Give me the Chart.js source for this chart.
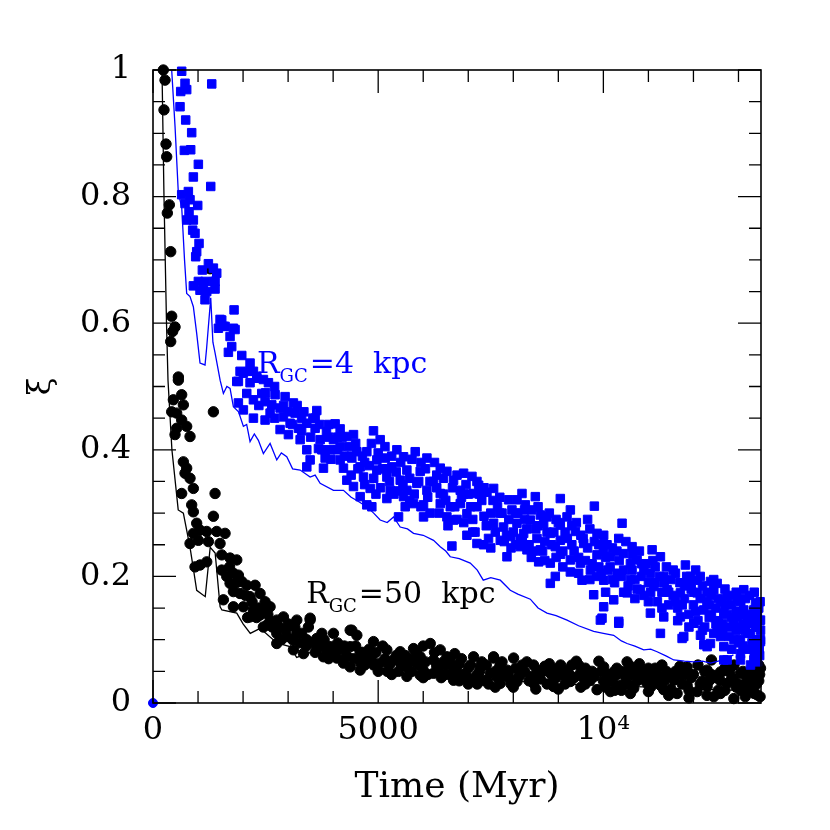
<!DOCTYPE html>
<html>
<head>
<meta charset="utf-8">
<script src="https://cdn.jsdelivr.net/npm/chart.js@4.4.1/dist/chart.umd.min.js"></script>
<style>
  html, body { margin: 0; padding: 0; background: #fff; }
</style>
</head>
<body>
<canvas id="xiChart" width="830" height="830"></canvas>
<script>
// axis ticks
const xTickValues = [0, 5000, 10000];
const xTickLabels = ['0', '5000', '10\u2074'];
const yTickValues = [0, 0.2, 0.4, 0.6, 0.8, 1];
const yTickLabels = ['0', '0.2', '0.4', '0.6', '0.8', '1'];

// R_GC = 50 kpc clusters, [time (Myr), xi]
const xi50 = [
  [229,1.0],[267,0.984],[244,0.937],[289,0.883],[304,0.863],[363,0.787],[318,0.774],[393,0.713],
  [415,0.611],[489,0.594],[437,0.587],[393,0.571],[563,0.515],[1267,0.686],
  [563,0.51],[637,0.487],[452,0.479],[674,0.471],[526,0.458],[415,0.46],[637,0.447],[748,0.437],
  [526,0.434],[822,0.421],[489,0.424],[1341,0.46],[674,0.381],[748,0.371],[711,0.363],[822,0.355],
  [896,0.339],[637,0.331],[1378,0.331],[859,0.313],[896,0.302],[1341,0.295],[970,0.284],[896,0.268],
  [1044,0.273],[1193,0.271],[1415,0.271],[1600,0.268],[1007,0.257],[1230,0.255],[822,0.252],[1489,0.252],
  [933,0.215],[1044,0.218],[1193,0.223],[1526,0.234],[1711,0.229],[1860,0.226],[1526,0.21],[1637,0.2],
  [1785,0.205],[1896,0.202],[1711,0.189],[1971,0.192],[2082,0.186],[2267,0.186],[1785,0.176],[1933,0.173],
  [2155,0.168],[2378,0.173],[2489,0.16],[1563,0.163],[1785,0.152],[2007,0.152],[2230,0.147],[2155,0.136],
  [2378,0.139],[2600,0.152],[2748,0.131],[2526,0.123],[2896,0.136],[3044,0.123],[3193,0.131],[3489,0.134],
  [2748,0.11],[2970,0.105],[2748,0.094],[3193,0.11],[3415,0.1],[3637,0.102],[3118,0.084],[3341,0.078],
  [3637,0.084],[3933,0.089],[4007,0.11],[4378,0.115],[3785,0.073],[4081,0.071],[4378,0.089],[4526,0.107],
  [4378,0.057],[4600,0.065],[4229,0.063],
  [3489,0.131],[4415,0.115],[4896,0.097],[5193,0.084],[5489,0.081],[5785,0.086],[6156,0.094],[6378,0.084],
  [4748,0.073],[5044,0.063],[5341,0.068],[5637,0.057],[5933,0.073],[6229,0.068],[6526,0.073],[6674,0.057],
  [7118,0.073],[7563,0.071],[5637,0.042],[5933,0.044],[6229,0.047],[6674,0.036],[6970,0.042],[7415,0.036],
  [4229,0.068],[4600,0.052],
  [7563,0.073],[8007,0.071],[10526,0.065],[7267,0.057],[7489,0.047],[7859,0.052],[8155,0.044],[8526,0.052],
  [8822,0.047],[9193,0.052],[9489,0.047],[10007,0.057],[10229,0.049],[10748,0.049],[11193,0.047],[11859,0.057],
  [12304,0.052],[12600,0.049],[13044,0.047],[13489,0.055],[7341,0.036],[7711,0.031],[8082,0.034],[8452,0.031],
  [8896,0.026],[9267,0.034],[9711,0.036],[9859,0.021],[10156,0.018],[10378,0.028],[10674,0.023],[10970,0.031],
  [11267,0.028],[11563,0.036],[11859,0.028],[12304,0.026],[12452,0.01],[12748,0.031],[12896,0.007],[13193,0.036],
  [13415,0.013],[13341,0.026],[11637,0.015],[12082,0.018],[11341,0.021],
  [4900,0.06],[5200,0.05],[5500,0.062],[5800,0.066],[6000,0.052],[6300,0.058],[6500,0.045],[6800,0.062],
  [7000,0.055],[7200,0.045],[7700,0.058],[7900,0.04],[8200,0.06],[8400,0.042],[8700,0.058],[8900,0.038],
  [9100,0.044],[9300,0.06],[9600,0.055],[9800,0.042],[10000,0.035],[10300,0.055],[10500,0.04],[10600,0.058],
  [10850,0.038],[11000,0.055],[11100,0.035],[11400,0.05],[11500,0.022],[11700,0.045],[11950,0.04],[12100,0.06],
  [12200,0.035],[12400,0.045],[12550,0.02],[12700,0.055],[12850,0.04],[12950,0.025],[13100,0.05],[13250,0.02],
  [13300,0.045],[13450,0.035],[13480,0.01],[5100,0.09],[5600,0.075],[6000,0.09],[6700,0.078],[7300,0.065],
  [8300,0.065],[8800,0.062],[9400,0.066],[9900,0.066],[10800,0.062],[11300,0.06],[11700,0.058],[12400,0.068],
  [12900,0.06],[13450,0.06],[4600,0.08],[4800,0.085],[4100,0.095],[3800,0.1],[3300,0.11],[3000,0.125],
  [2600,0.13],[2350,0.15],[2050,0.17],[2450,0.12],[1850,0.19],[1700,0.215],[2100,0.135],[5300,0.045],
  [5900,0.06],[6500,0.06],[7000,0.03],[7800,0.045],[8600,0.038],[9000,0.055],[9600,0.03],[10100,0.045],
  [10400,0.02],[11000,0.045],[11800,0.045],[12600,0.035],[13000,0.03],[13350,0.04],
  [2200,0.16],[2300,0.135],[2450,0.145],[2550,0.14],[2650,0.12],[2800,0.12],[2850,0.1],[2950,0.115],
  [3100,0.1],[3150,0.12],[3250,0.095],[3400,0.09],[3450,0.12],[3550,0.095],[3600,0.08],[3700,0.09],
  [3750,0.11],[3850,0.085],[3900,0.07],[4000,0.08],[4150,0.085],[4250,0.09],[4300,0.075],[4450,0.07],
  [4500,0.09],[4650,0.08],[4700,0.06],[4850,0.07],[4950,0.08],[5000,0.05],[5150,0.07],[5250,0.06],
  [5400,0.075],[5450,0.05],[5550,0.065],[5700,0.07],[5750,0.05],[5850,0.08],[6050,0.065],[6100,0.045],
  [6250,0.08],[6350,0.05],[6450,0.065],[6600,0.045],[6600,0.07],[6750,0.05],[6850,0.07],[6900,0.045],
  [7050,0.06],[7150,0.04],[7250,0.05],[7400,0.06],[7450,0.03],[7600,0.05],[7650,0.04],[7750,0.065],
  [7900,0.05],[7950,0.03],[8050,0.055],[8100,0.04],[8250,0.05],[8350,0.035],[8450,0.06],[8550,0.04],
  [8650,0.05],[8750,0.03],[8850,0.055],[8950,0.04],[9050,0.06],[9150,0.03],[9250,0.045],[9350,0.04],
  [9450,0.06],[9550,0.04],[9650,0.05],[9750,0.05],[9950,0.05],[10050,0.025],[10200,0.035],[10300,0.045],
  [10450,0.05],[10550,0.03],[10650,0.045],[10750,0.035],[10900,0.05],[11050,0.025],[11150,0.055],[11250,0.04],
  [11350,0.035],[11450,0.045],[11600,0.05],[11750,0.03],[11800,0.05],[11900,0.02],[12000,0.045],[12150,0.03],
  [12250,0.05],[12350,0.035],[12500,0.04],[12650,0.05],[12700,0.02],[12800,0.05],[12900,0.035],[13050,0.02],
  [13150,0.045],[13200,0.025],[13300,0.055],[13400,0.03],[13470,0.045],[13350,0.015],[13150,0.01],[12600,0.015],
  [12300,0.012],[11900,0.008],[11450,0.012],[11000,0.018],[10600,0.015],[10250,0.02],[9500,0.025],[9000,0.022],
  [8500,0.022],[8000,0.025],[7600,0.025],[7200,0.03],[6800,0.035],[6400,0.04],[6000,0.04]
];

// R_GC = 4 kpc clusters, [time (Myr), xi]
const xi4 = [
  [637,0.998],[711,0.979],[748,0.969],[615,0.966],[1304,0.978],[600,0.942],[726,0.921],[859,0.901],
  [696,0.873],[837,0.874],[1007,0.851],[896,0.831],[1282,0.816],[637,0.803],[785,0.808],[711,0.789],
  [822,0.795],[993,0.786],[800,0.776],[748,0.763],[896,0.763],[881,0.747],[933,0.742],[1022,0.726],
  [970,0.713],[948,0.705],[1230,0.694],[1096,0.684],[1341,0.687],[1415,0.679],[896,0.659],[1007,0.666],
  [1155,0.666],[1378,0.666],[1044,0.652],[1193,0.65],[1378,0.654],[1155,0.637],[1800,0.621],[1526,0.605],
  [1452,0.592],[1600,0.595],[1822,0.59],[1711,0.579],[1748,0.563],[1674,0.554],[1971,0.549],[2155,0.537],
  [1933,0.524],[2118,0.524],[2304,0.516],[1896,0.508],[2155,0.506],[2452,0.511],
  [1118,0.662],[1341,0.666],[1489,0.606],[1563,0.595],[1785,0.592],[2007,0.521],[2230,0.524],[1860,0.508],
  [2304,0.513],[2563,0.506],[2082,0.489],[2415,0.489],[2711,0.487],[2933,0.484],[2230,0.479],[2489,0.476],
  [1896,0.474],[2637,0.471],[3118,0.474],[2822,0.466],[2007,0.463],[2600,0.458],[3637,0.462],[2230,0.45],
  [2489,0.447],[2896,0.452],[3155,0.458],[3044,0.442],[3415,0.442],[4044,0.441],[2822,0.432],[3230,0.434],
  [3600,0.434],[3852,0.429],[4155,0.433],[4896,0.43],[3007,0.424],[3267,0.416],[3711,0.416],[4007,0.416],
  [4304,0.421],[4452,0.424],[5044,0.416],[3415,0.4],[3674,0.402],[3933,0.4],[4155,0.405],[4526,0.397],
  [4748,0.397],[5415,0.4],[5822,0.397],[6082,0.387],[3489,0.384],[3822,0.387],[4155,0.384],[4415,0.387],
  [4970,0.384],[5155,0.387],[5563,0.389],[3415,0.373],[3785,0.371],[4229,0.371],[4600,0.373],[4970,0.368],
  [5304,0.373],[5637,0.368],[5933,0.366],[6378,0.371],[6526,0.366],[6896,0.363],[7082,0.358],[4304,0.352],
  [4674,0.357],[5193,0.357],[5489,0.352],[5859,0.347],[6229,0.35],[6674,0.352],[7193,0.35],[4452,0.342],
  [4822,0.339],[5267,0.336],[5637,0.336],[6082,0.336],[6378,0.331],[6822,0.336],[7118,0.331],[4600,0.326],
  [4748,0.313],[5193,0.323],[5563,0.326],[5785,0.315],[6007,0.313],[6378,0.315],[6600,0.31],[6822,0.315],
  [6970,0.299],[7193,0.31],[4859,0.31],[5452,0.294],[6007,0.294],[6526,0.294],[6674,0.289],[6970,0.265],
  [6637,0.248],[7193,0.252],
  [7230,0.344],[7563,0.339],[7415,0.333],[7896,0.321],[8082,0.321],[8193,0.331],[8489,0.326],[9044,0.323],
  [7970,0.305],[8267,0.313],[8600,0.297],[8748,0.294],[9800,0.311],[9267,0.305],[9193,0.294],[7563,0.284],
  [7785,0.278],[8082,0.284],[8378,0.289],[8674,0.284],[9044,0.281],[10415,0.284],[9378,0.271],[8822,0.268],
  [8230,0.268],[7711,0.257],[7933,0.263],[8526,0.26],[9044,0.257],[9859,0.268],[10007,0.265],[10341,0.26],
  [7341,0.25],[8156,0.247],[8600,0.242],[8933,0.247],[9563,0.252],[10081,0.25],[10637,0.247],[11082,0.242],
  [7859,0.231],[8304,0.242],[8563,0.223],[8822,0.221],[9267,0.226],[9489,0.221],[9859,0.234],[10156,0.231],
  [10452,0.236],[10748,0.226],[11267,0.231],[8822,0.189],[8933,0.2],[9267,0.207],[9526,0.194],[9711,0.21],
  [10007,0.194],[10304,0.205],[10637,0.21],[11044,0.205],[11341,0.2],[11822,0.218],[11933,0.2],[12082,0.194],
  [12378,0.192],[12526,0.189],[9785,0.171],[10007,0.152],[10230,0.163],[10526,0.174],[10822,0.179],[11118,0.184],
  [11415,0.179],[11711,0.174],[12082,0.174],[12452,0.179],[12748,0.168],[12970,0.163],[9970,0.134],[10341,0.129],
  [11044,0.142],[11267,0.11],[11341,0.136],[11711,0.136],[11785,0.105],[12007,0.126],[12156,0.107],[12230,0.092],
  [12526,0.115],[12896,0.129],[13118,0.147],[13341,0.147],[13489,0.131],[13267,0.11],[13489,0.1],[13341,0.089],
  [13044,0.078],[13341,0.068],[13267,0.06],[12674,0.089],[12378,0.094],[12785,0.105],[13044,0.1],[13193,0.126],
  [12970,0.136],[12674,0.142],[12230,0.147],[13118,0.179],[13378,0.158],[13489,0.097],[12674,0.068],
  [9933,0.131],[10341,0.126],[11748,0.102],[12304,0.089],[12748,0.068],[13044,0.068],
  [7000,0.33],[7100,0.29],[7300,0.32],[7400,0.28],[7500,0.3],[7650,0.31],[7700,0.3],[7800,0.255],
  [7900,0.29],[8000,0.27],[8100,0.3],[8200,0.255],[8300,0.275],[8400,0.305],[8450,0.24],[8550,0.28],
  [8700,0.255],[8800,0.3],[8900,0.27],[8950,0.23],[9100,0.24],[9150,0.27],[9300,0.25],[9400,0.285],
  [9450,0.23],[9550,0.26],[9650,0.245],[9700,0.275],[9750,0.22],[9900,0.25],[9950,0.205],[10050,0.23],
  [10100,0.21],[10200,0.245],[10250,0.19],[10350,0.225],[10400,0.2],[10500,0.255],[10550,0.185],[10600,0.22],
  [10700,0.195],[10800,0.24],[10850,0.2],[10900,0.17],[10950,0.22],[11000,0.19],[11150,0.215],[11200,0.16],
  [11250,0.2],[11300,0.175],[11400,0.215],[11450,0.155],[11500,0.195],[11550,0.17],[11600,0.205],[11650,0.15],
  [11700,0.19],[11800,0.165],[11850,0.2],[11900,0.14],[11950,0.18],[12000,0.155],[12050,0.21],[12100,0.13],
  [12150,0.165],[12200,0.185],[12250,0.12],[12300,0.16],[12350,0.135],[12400,0.17],[12450,0.11],[12500,0.15],
  [12550,0.13],[12600,0.16],[12650,0.115],[12700,0.18],[12750,0.14],[12800,0.12],[12850,0.155],[12900,0.1],
  [12950,0.145],[13000,0.12],[13050,0.16],[13100,0.09],[13150,0.14],[13200,0.11],[13250,0.17],[13300,0.13],
  [13350,0.08],[13400,0.12],[13450,0.15],[13470,0.075],[13490,0.115],[13400,0.1],[13420,0.065],
  [3100,0.44],[3200,0.47],[3300,0.43],[3350,0.46],[3500,0.42],[3550,0.45],[3700,0.44],[3750,0.40],
  [3900,0.42],[3950,0.385],[4100,0.40],[4200,0.42],[4250,0.39],[4350,0.405],[4400,0.36],[4500,0.41],
  [4550,0.37],[4650,0.39],[4700,0.345],[4800,0.375],[4850,0.41],[4900,0.355],[5000,0.395],[5050,0.34],
  [5100,0.37],[5150,0.405],[5250,0.35],[5300,0.39],[5350,0.33],[5400,0.365],[5500,0.38],[5550,0.345],
  [5600,0.31],[5700,0.355],[5750,0.385],[5800,0.33],[5900,0.35],[5950,0.31],[6050,0.37],[6100,0.325],
  [6150,0.35],[6250,0.38],[6300,0.34],[6350,0.30],[6450,0.355],[6500,0.32],[6550,0.28],[6650,0.34],
  [6700,0.31],[6750,0.36],[6850,0.325],[6900,0.285],[6950,0.345],[7050,0.31],[7150,0.27],[7250,0.33],
  [7350,0.295],[7450,0.26],[7550,0.32],[7600,0.27],[7750,0.30],[7850,0.265],[7950,0.245],[8050,0.30],
  [8150,0.26],[8250,0.29],[8350,0.25],[8500,0.275],[8650,0.24],[8750,0.27],[8850,0.25],[9000,0.285],
  [9050,0.235],[9200,0.26],[9350,0.24],[9500,0.265],[9600,0.225],[9800,0.255],[9850,0.2],[10000,0.24],
  [10150,0.215],[10300,0.24],[10450,0.21],[10650,0.235],[10750,0.18],[10900,0.21],[11050,0.175],[11100,0.225],
  [11350,0.19],[11550,0.21],[11600,0.16],[11750,0.155],[11900,0.19],[12050,0.145],[12150,0.2],[12300,0.175],
  [12400,0.14],[12450,0.195],[12550,0.165],[12650,0.125],[12700,0.155],[12800,0.17],[12850,0.135],[12950,0.175],
  [13000,0.095],[13050,0.14],[13150,0.115],[13150,0.165],[13250,0.135],[13300,0.095],[13350,0.175],[13380,0.12],
  [13420,0.14],[13460,0.085],[13480,0.16],[13470,0.13],[13230,0.085],[13100,0.125],[12950,0.115],[12850,0.085],
  [12600,0.105],[12500,0.125],[12350,0.155],[12200,0.115],[12000,0.175],[11900,0.12],[11800,0.185],[11650,0.13],
  [11450,0.175],[11300,0.15],[11150,0.19],[11000,0.16],[10850,0.22],[10700,0.165],[10600,0.195],[10450,0.175],
  [10200,0.195],[10050,0.175],[9900,0.215],[9700,0.195],[9650,0.29],[9450,0.205],[9300,0.28],[9100,0.215],
  [8950,0.29],[8700,0.225],[8550,0.31],[8400,0.23],[8250,0.305],[8050,0.25],[7700,0.325],[7500,0.245],
  [7350,0.34],[7100,0.27],[6900,0.33],[6750,0.29],[6450,0.33],[6300,0.36],[6150,0.30],[5950,0.38],
  [5700,0.32],[5450,0.335],[5200,0.37],[4950,0.33],[4700,0.38],[4400,0.39],[4100,0.42],[3900,0.44],
  [3600,0.45],[3300,0.45],[2900,0.47],[2700,0.45],[2500,0.49],[2350,0.47],[2700,0.50],[3000,0.46]
];

// model curves, [time (Myr), xi]
const curve4 = [
  [380,1.05],[415,1.0],[490,0.91],[563,0.805],[637,0.784],[700,0.70],[748,0.647],[822,0.642],[896,0.626],
  [970,0.584],[1044,0.537],[1155,0.534],[1190,0.56],[1282,0.64],[1330,0.57],[1378,0.553],[1490,0.51],
  [1563,0.489],[1640,0.50],[1711,0.497],[1785,0.468],[1900,0.46],[2007,0.437],[2080,0.44],[2155,0.413],
  [2250,0.425],[2340,0.415],[2451,0.394],[2600,0.41],[2748,0.384],[2850,0.395],[2970,0.389],[3100,0.37],
  [3267,0.368],[3489,0.357],[3600,0.36],[3711,0.347],[4007,0.336],[4229,0.336],[4400,0.325],[4526,0.32],
  [4748,0.31],[4900,0.30],[5044,0.289],[5200,0.285],[5341,0.294],[5489,0.278],[5650,0.275],[5785,0.268],
  [6000,0.265],[6229,0.257],[6378,0.247],[6500,0.24],[6600,0.231],[6800,0.228],[7044,0.221],[7200,0.21],
  [7333,0.194],[7500,0.198],[7711,0.194],[7933,0.178],[8100,0.172],[8378,0.164],[8550,0.15],[8748,0.142],
  [8950,0.138],[9193,0.131],[9450,0.122],[9785,0.113],[10000,0.11],[10229,0.107],[10400,0.098],[10526,0.094],
  [10700,0.09],[10896,0.084],[11050,0.085],[11193,0.081],[11400,0.074],[11563,0.068],[11800,0.066],[12007,0.065],
  [12200,0.066],[12378,0.063],[12550,0.066],[12667,0.068],[12888,0.076]
];
const curve50 = [
  [190,1.05],[200,1.0],[244,0.8],[300,0.6],[333,0.51],[420,0.40],[560,0.305],[674,0.30],[822,0.246],
  [890,0.215],[970,0.178],[1160,0.168],[1270,0.246],[1380,0.237],[1490,0.152],[1530,0.147],[1860,0.142],
  [2000,0.125],[2160,0.11],[2380,0.118],[2750,0.095],[3040,0.089],[3190,0.072],[3500,0.08],[4000,0.07],
  [4500,0.06],[5000,0.055],[6000,0.048],[7000,0.04],[8000,0.035],[9000,0.03],[10000,0.028],[11000,0.025],
  [12000,0.022],[13000,0.02],[13450,0.02]
];
const originPoint = [[0, 0]];

const xMax = 13500;
const serif = '"DejaVu Serif", "Liberation Serif", serif';

const toXY = arr => arr.map(p => ({ x: p[0], y: p[1] }));

function drawSubLabel(ctx, px, py, parts, color) {
  ctx.fillStyle = color;
  ctx.textBaseline = 'alphabetic';
  ctx.textAlign = 'left';
  ctx.font = '30px ' + serif;
  ctx.fillText(parts[0], px, py);
  let w = ctx.measureText(parts[0]).width;
  ctx.font = '18px ' + serif;
  ctx.fillText(parts[1], px + w, py + 9);
  w += ctx.measureText(parts[1]).width + 2;
  ctx.font = '30px ' + serif;
  ctx.fillText(parts[2], px + w, py);
}

const frameTicks = {
  id: 'frameTicks',
  afterDatasetsDraw(chart) {
    const { ctx, chartArea: a, scales: { x, y } } = chart;
    ctx.save();
    ctx.strokeStyle = '#000';
    ctx.lineWidth = 1.3;
    ctx.beginPath();
    for (let v = 0; v <= xMax; v += 1000) {
      const px = x.getPixelForValue(v);
      const len = v % 5000 === 0 ? 23 : 12;
      ctx.moveTo(px, a.bottom); ctx.lineTo(px, a.bottom - len);
      ctx.moveTo(px, a.top); ctx.lineTo(px, a.top + len);
    }
    for (let i = 0; i <= 20; i++) {
      const py = y.getPixelForValue(i * 0.05);
      const len = i % 4 === 0 ? 23 : 12;
      ctx.moveTo(a.left, py); ctx.lineTo(a.left + len, py);
      ctx.moveTo(a.right, py); ctx.lineTo(a.right - len, py);
    }
    ctx.stroke();
    ctx.lineWidth = 1.6;
    ctx.strokeRect(a.left, a.top, a.right - a.left, a.bottom - a.top);

    drawSubLabel(ctx, x.getPixelForValue(2310), y.getPixelForValue(0.521), ['R', 'GC', '=4  kpc'], '#0000ff');
    drawSubLabel(ctx, x.getPixelForValue(3400), y.getPixelForValue(0.158), ['R', 'GC', '=50  kpc'], '#000');
    ctx.restore();
  }
};

const ctx = document.getElementById('xiChart').getContext('2d');
const chart = new Chart(ctx, {
  type: 'scatter',
  data: {
    datasets: [
      {
        label: 'R_GC=50 kpc',
        data: toXY(xi50),
        pointStyle: 'circle',
        pointRadius: 5.2,
        pointBorderWidth: 1,
        backgroundColor: '#000',
        borderColor: '#000',
        clip: false,
        order: 4
      },
      {
        label: 'model 50 kpc',
        data: toXY(curve50),
        showLine: true,
        pointRadius: 0,
        borderColor: '#000',
        borderWidth: 1.3,
        order: 3
      },
      {
        label: 'R_GC=4 kpc',
        data: toXY(xi4),
        pointStyle: 'rect',
        pointRadius: 6,
        pointBorderWidth: 1,
        backgroundColor: '#0000ff',
        borderColor: '#0000ff',
        clip: false,
        order: 2
      },
      {
        label: 'model 4 kpc',
        data: toXY(curve4),
        showLine: true,
        pointRadius: 0,
        borderColor: '#0000ff',
        borderWidth: 1.3,
        order: 1
      },
      {
        label: 'origin',
        data: toXY(originPoint),
        pointRadius: 4.5,
        backgroundColor: '#0000ff',
        borderColor: '#0000ff',
        clip: false,
        order: 0
      }
    ]
  },
  options: {
    responsive: false,
    animation: false,
    devicePixelRatio: 1,
    layout: { padding: { top: 70, right: 69, left: 0, bottom: 0 } },
    plugins: { legend: { display: false }, tooltip: { enabled: false } },
    scales: {
      x: {
        type: 'linear',
        min: 0,
        max: xMax,
        grid: { display: false, drawTicks: false },
        border: { display: false },
        afterBuildTicks: s => { s.ticks = xTickValues.map(v => ({ value: v })); },
        afterFit: s => { s.height = 127; },
        ticks: {
          color: '#000',
          font: { family: serif, size: 32 },
          padding: 8,
          maxRotation: 0,
          callback: (v) => xTickLabels[xTickValues.indexOf(v)]
        },
        title: {
          display: true,
          text: 'Time (Myr)',
          color: '#000',
          font: { family: serif, size: 36 },
          padding: { top: 0, bottom: 21 }
        }
      },
      y: {
        type: 'linear',
        min: 0,
        max: 1,
        grid: { display: false, drawTicks: false },
        border: { display: false },
        afterBuildTicks: s => { s.ticks = yTickValues.map(v => ({ value: v })); },
        afterFit: s => { s.width = 153; },
        ticks: {
          color: '#000',
          font: { family: serif, size: 32 },
          padding: 22,
          callback: (v) => yTickLabels[yTickValues.indexOf(v)]
        },
        title: {
          display: true,
          text: '\u03be',
          color: '#000',
          font: { family: serif, size: 32 },
          padding: { top: 22, bottom: 0 }
        }
      }
    }
  },
  plugins: [frameTicks]
});
</script>
</body>
</html>
